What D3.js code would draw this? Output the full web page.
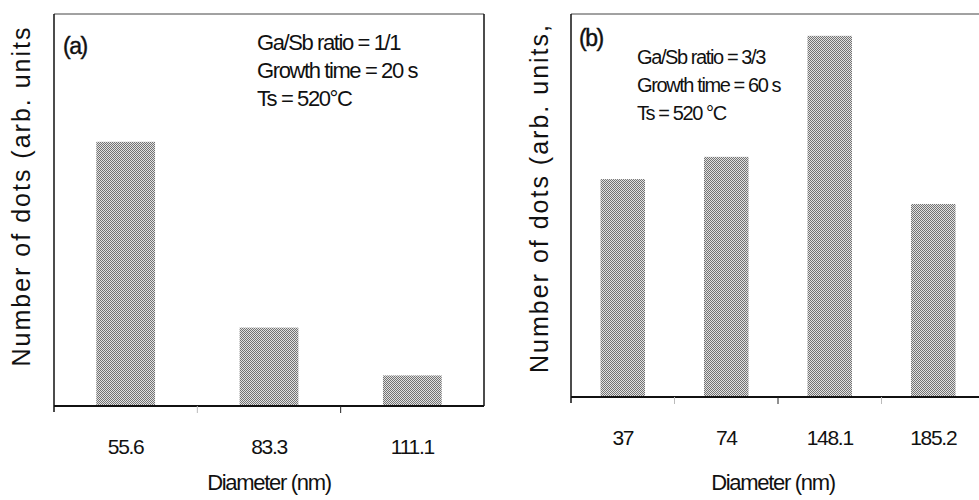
<!DOCTYPE html>
<html>
<head>
<meta charset="utf-8">
<script src="https://cdn.jsdelivr.net/npm/d3@7"></script>
<style>
  body { margin: 0; background: #fff; }
  svg text { font-family: "Liberation Sans", Arial, sans-serif; fill: #111; }
</style>
</head>
<body>
<div id="wrapper"></div>
<script>
// data (arbitrary units, 0-100)
const diametersA = ["55.6", "83.3", "111.1"];
const countsA = [67.4, 20.0, 7.8];
const notesA = ["Ga/Sb ratio = 1/1", "Growth time = 20 s", "Ts = 520°C"];

const diametersB = ["37", "74", "148.1", "185.2"];
const countsB = [56.9, 62.7, 94.3, 50.4];
const notesB = ["Ga/Sb ratio = 3/3", "Growth time = 60 s", "Ts = 520 °C"];

const yLabelA = "Number of dots (arb. units";
const yLabelB = "Number of dots (arb. units,";
const xLabel = "Diameter (nm)";

const svg = d3.select("#wrapper")
    .append("svg")
    .attr("width", 979)
    .attr("height", 500);

// halftone-like fill
const pat = svg.append("defs").append("pattern")
    .attr("id", "dots")
    .attr("patternUnits", "userSpaceOnUse")
    .attr("width", 2).attr("height", 2);
pat.append("rect").attr("width", 2).attr("height", 2).attr("fill", "#e2e2e2");
pat.append("rect").attr("width", 1).attr("height", 1).attr("fill", "#737373");
pat.append("rect").attr("x", 1).attr("y", 1).attr("width", 1).attr("height", 1).attr("fill", "#737373");

function drawPanel(opt) {
    const { left, right, top, bottom, cats, vals, pad } = opt;

    const x = d3.scaleBand().domain(cats).range([left, right]).paddingInner(pad).paddingOuter(pad / 2);
    const y = d3.scaleLinear().domain([0, 100]).range([bottom, top]);

    const g = svg.append("g");

    // bars
    g.selectAll("rect.bar")
        .data(vals)
        .enter()
        .append("rect")
        .attr("class", "bar")
        .attr("x", (d, i) => x(cats[i]))
        .attr("y", d => y(d))
        .attr("width", x.bandwidth())
        .attr("height", d => y(0) - y(d))
        .attr("fill", "url(#dots)");

    // frame
    g.append("line").attr("x1", left).attr("x2", opt.frameRight).attr("y1", top).attr("y2", top)
        .attr("stroke", "#444").attr("stroke-width", 1);
    g.append("line").attr("x1", left).attr("x2", left).attr("y1", top).attr("y2", bottom + 6)
        .attr("stroke", "#111").attr("stroke-width", 1.5);
    if (opt.rightBorder) {
        g.append("line").attr("x1", right).attr("x2", right).attr("y1", top).attr("y2", bottom)
            .attr("stroke", "#111").attr("stroke-width", 1.5);
    }

    // x axis with ticks between categories
    const step = x.step();
    const xAxis = d3.axisBottom(x).tickSize(0).tickPadding(opt.labelPad);
    const ax = g.append("g").attr("transform", `translate(0,${bottom})`).call(xAxis);
    ax.select(".domain").attr("stroke", "#111").attr("stroke-width", 2)
        .attr("d", `M${left},0H${opt.frameRight}`);
    ax.selectAll(".tick text")
        .attr("font-size", 21)
        .attr("letter-spacing", -1.3)
        .attr("fill", "#111");

    const bounds = d3.range(1, cats.length).map(i => left + i * step);
    g.selectAll("line.sep")
        .data(bounds)
        .enter()
        .append("line")
        .attr("class", "sep")
        .attr("x1", d => d).attr("x2", d => d)
        .attr("y1", bottom).attr("y2", bottom + 7)
        .attr("stroke", (d, i) => i % 2 === 0 ? "#bbb" : "#222")
        .attr("stroke-width", 1);

    // axis titles
    g.append("text")
        .attr("x", (left + Math.min(right, 979)) / 2 + opt.xLabelShift)
        .attr("y", 490)
        .attr("text-anchor", "middle")
        .attr("font-size", 22)
        .attr("letter-spacing", -1.3)
        .text(xLabel);

    g.append("text")
        .attr("transform", `translate(${opt.yLabelX},${opt.yLabelY}) rotate(-90)`)
        .attr("text-anchor", "middle")
        .attr("font-size", 25)
        .attr("letter-spacing", 2)
        .attr("fill", "#222")
        .text(opt.yLabel);

    // panel letter + notes
    g.append("text")
        .attr("x", opt.letterX).attr("y", opt.letterY)
        .attr("font-size", 23)
        .attr("letter-spacing", -1.5)
        .attr("stroke", "#111").attr("stroke-width", 0.4)
        .text(opt.letter);

    g.selectAll("text.note")
        .data(opt.notes)
        .enter()
        .append("text")
        .attr("class", "note")
        .attr("x", opt.noteX)
        .attr("y", (d, i) => opt.noteY + i * 28)
        .attr("font-size", opt.noteSize)
        .attr("letter-spacing", -1.4)
        .text(d => d);
}

drawPanel({
    left: 54, right: 484, frameRight: 484, top: 14, bottom: 406,
    cats: diametersA, vals: countsA, pad: 0.59, rightBorder: true,
    labelPad: 33, xLabelShift: 0,
    yLabel: yLabelA, yLabelX: 30, yLabelY: 196,
    letter: "(a)", letterX: 63, letterY: 54,
    notes: notesA, noteX: 257, noteY: 50, noteSize: 22
});

drawPanel({
    left: 571, right: 985, frameRight: 979, top: 14, bottom: 397,
    cats: diametersB, vals: countsB, pad: 0.57, rightBorder: false,
    labelPad: 33, xLabelShift: -2,
    yLabel: yLabelB, yLabelX: 548, yLabelY: 198,
    letter: "(b)", letterX: 579, letterY: 46,
    notes: notesB, noteX: 637, noteY: 64, noteSize: 20
});
</script>
</body>
</html>
